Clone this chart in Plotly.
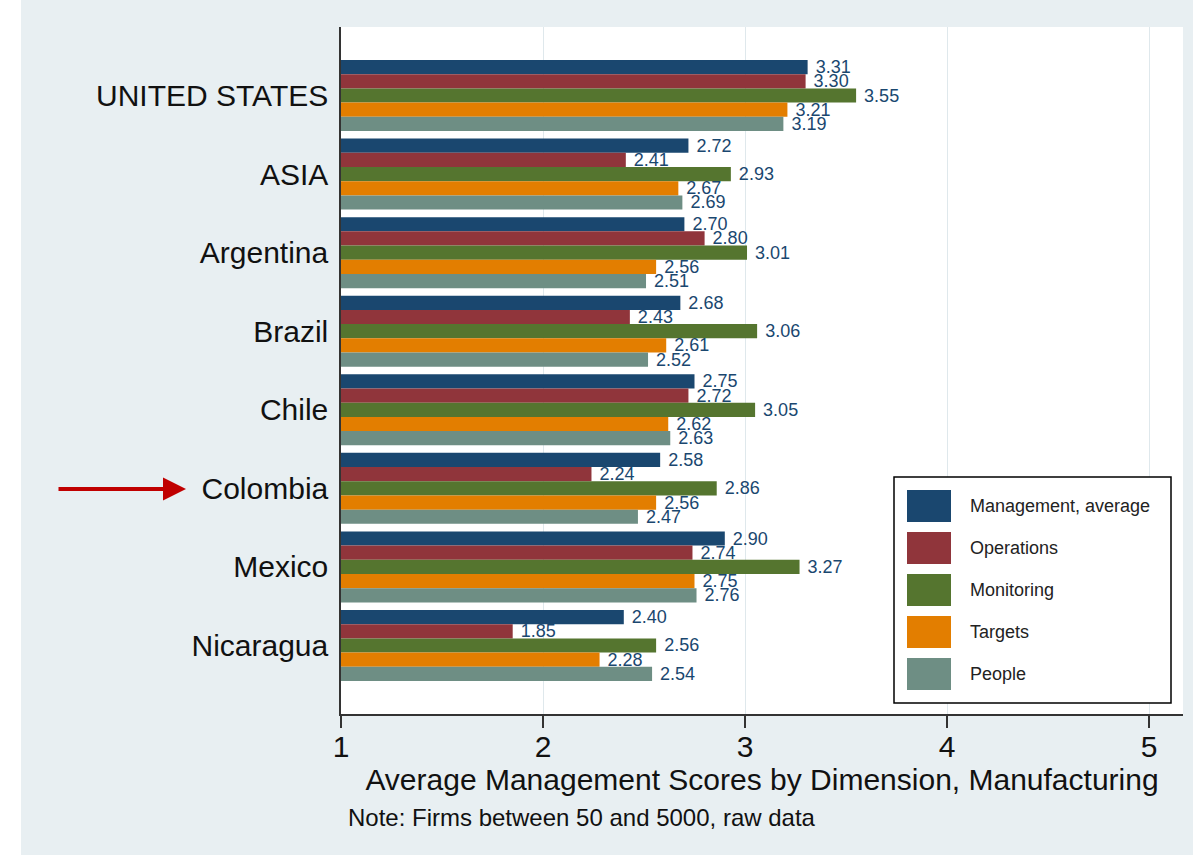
import plotly.graph_objects as go

countries = ["UNITED STATES", "ASIA", "Argentina", "Brazil", "Chile", "Colombia", "Mexico", "Nicaragua"]
series_names = ["Management, average", "Operations", "Monitoring", "Targets", "People"]
management = [3.31, 2.72, 2.70, 2.68, 2.75, 2.58, 2.90, 2.40]
operations = [3.30, 2.41, 2.80, 2.43, 2.72, 2.24, 2.74, 1.85]
monitoring = [3.55, 2.93, 3.01, 3.06, 3.05, 2.86, 3.27, 2.56]
targets = [3.21, 2.67, 2.56, 2.61, 2.62, 2.56, 2.75, 2.28]
people = [3.19, 2.69, 2.51, 2.52, 2.63, 2.47, 2.76, 2.54]
x_ticks = [1, 2, 3, 4, 5]

colors = ["#1a476f", "#90353b", "#55752f", "#e37e00", "#6e8e84"]
series = [management, operations, monitoring, targets, people]

W, H = 1193, 855
L, R, T, B = 341, 1183, 27, 714
FONT = "Liberation Sans, Arial, Helvetica, sans-serif"


def px(x):
    return (x - L) / (R - L)


def py(y):
    return 1 - (y - T) / (B - T)


fig = go.Figure()
for name, vals, col in zip(series_names, series, colors):
    fig.add_trace(go.Bar(
        y=countries, x=vals, name=name, orientation="h",
        marker=dict(color=col, line=dict(width=0)),
        text=[" %.2f" % v for v in vals], textposition="outside",
        textfont=dict(color="#1a476f", size=18, family=FONT),
        constraintext="none", cliponaxis=False, showlegend=False,
        hoverinfo="x+y+name",
    ))

shapes = [
    # white strip on far left
    dict(type="rect", xref="paper", yref="paper", x0=px(0), x1=px(21), y0=py(-5), y1=py(H + 5),
         fillcolor="white", line=dict(width=0), layer="below"),
    # legend box
    dict(type="rect", xref="paper", yref="paper", x0=px(894), x1=px(1171), y0=py(477), y1=py(703),
         fillcolor="white", line=dict(color="black", width=1.5), layer="above"),
]
annotations = []
for i, (name, col) in enumerate(zip(series_names, colors)):
    top = 490 + 42 * i
    shapes.append(dict(type="rect", xref="paper", yref="paper", x0=px(907), x1=px(951),
                       y0=py(top), y1=py(top + 32), fillcolor=col, line=dict(width=0), layer="above"))
    annotations.append(dict(xref="paper", yref="paper", x=px(968), y=py(top + 16), text=name,
                            showarrow=False, xanchor="left", yanchor="middle",
                            font=dict(size=18, color="#222", family=FONT)))

annotations.append(dict(xref="paper", yref="paper", x=px(346), y=py(817),
                        text="Note: Firms between 50 and 5000, raw data", showarrow=False,
                        xanchor="left", yanchor="middle", font=dict(size=24, color="#111", family=FONT)))
annotations.append(dict(xref="paper", yref="paper", x=px(186), y=py(489), text="",
                        showarrow=True, axref="pixel", ayref="pixel", ax=-129, ay=0,
                        arrowhead=2, arrowsize=1.15, arrowwidth=4, arrowcolor="#c00000", standoff=0))

fig.update_layout(
    width=W, height=H,
    margin=dict(l=L, r=W - R, t=T, b=H - B, pad=0),
    paper_bgcolor="#e8eff2", plot_bgcolor="white",
    barmode="group", bargap=0.096, bargroupgap=0,
    font=dict(family=FONT, color="#111"),
    shapes=shapes, annotations=annotations,
    xaxis=dict(range=[1, 1 + (R - L) / 202], tickvals=x_ticks, ticktext=[str(v) for v in x_ticks],
               showgrid=True, gridcolor="#dfe8ec", gridwidth=1, zeroline=False,
               showline=True, linecolor="#333", linewidth=1.5,
               ticks="outside", ticklen=12, tickcolor="#333", tickwidth=1.5,
               ticklabelstandoff=-7,
               tickfont=dict(size=30, family=FONT, color="#111"),
               title=dict(text="Average Management Scores by Dimension, Manufacturing",
                          font=dict(size=30, family=FONT, color="#111"), standoff=2)),
    yaxis=dict(range=[7.872, -0.872], showgrid=False, zeroline=False,
               showline=True, linecolor="#333", linewidth=1.5, ticks="",
               ticklabelstandoff=5, tickfont=dict(size=30, family=FONT, color="#111")),
)

fig.write_html("out.html", config={"displayModeBar": False},
               post_script="document.body.style.margin='0';document.body.style.overflow='hidden';")
